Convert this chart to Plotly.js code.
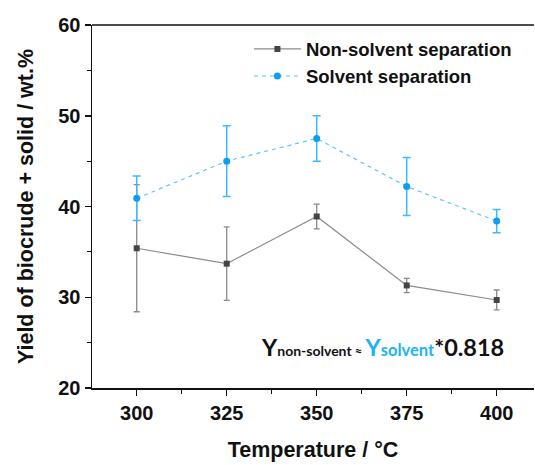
<!DOCTYPE html>
<html>
<head>
<meta charset="utf-8">
<script src="https://cdn.plot.ly/plotly-3.0.1.min.js"></script>
<style>html,body{margin:0;padding:0;background:#fff;}#chart{width:535px;height:465px;}</style>
</head>
<body>
<div id="chart"></div>
<script>
const temperatures = [300, 325, 350, 375, 400];
const nonSolventYield = [35.4, 33.7, 38.9, 31.3, 29.7];
const nonSolventErr = [7.0, 4.05, 1.36, 0.78, 1.1];
const solventYield = [40.9, 45.0, 47.5, 42.2, 38.4];
const solventErr = [2.45, 3.9, 2.5, 3.2, 1.28];
const seriesNames = ["Non-solvent separation", "Solvent separation"];
const xTicks = [300, 325, 350, 375, 400];
const yTicks = [20, 30, 40, 50, 60];

const FONT = "Liberation Sans, Arial, sans-serif";

const traces = [
  {
    x: temperatures, y: nonSolventYield, name: seriesNames[0],
    type: "scatter", mode: "lines+markers",
    line: {color: "#8a8a8a", width: 1.2},
    marker: {symbol: "square", size: 6, color: "#444444"},
    error_y: {type: "data", array: nonSolventErr, visible: true, color: "#8a8a8a", thickness: 1.3, width: 3}
  },
  {
    x: temperatures, y: solventYield, name: seriesNames[1],
    type: "scatter", mode: "lines+markers",
    line: {color: "#5cc6ff", width: 1.2, dash: "4px,4px"},
    marker: {symbol: "circle", size: 7, color: "#0f9cf5"},
    error_y: {type: "data", array: solventErr, visible: true, color: "#3bbaff", thickness: 1.5, width: 4}
  }
];

const layout = {
  width: 535, height: 465,
  margin: {l: 92, r: 1, t: 25, b: 77},
  paper_bgcolor: "#fff", plot_bgcolor: "#fff",
  showlegend: true,
  legend: {
    x: 0.355, y: 0.985, xanchor: "left", yanchor: "top",
    bgcolor: "rgba(0,0,0,0)",
    font: {family: FONT, size: 18.5, color: "#111", weight: "bold"},
    itemwidth: 47, tracegroupgap: 0
  },
  xaxis: {
    range: [287.58, 410.36],
    tickvals: xTicks,
    ticks: "outside", ticklen: 6, tickwidth: 1.5, tickcolor: "#111",
    minor: {dtick: 12.5, tick0: 287.5, ticks: "outside", ticklen: 4, tickwidth: 1.2, tickcolor: "#111", showgrid: false},
    showline: true, linecolor: "#111", linewidth: 1.5,
    showgrid: false, zeroline: false,
    tickfont: {family: FONT, size: 20, color: "#111", weight: "bold"},
    title: {text: "Temperature / °C", font: {family: FONT, size: 21.5, color: "#111", weight: "bold"}, standoff: 19},
    automargin: false
  },
  yaxis: {
    range: [20, 60],
    tickvals: yTicks,
    ticks: "outside", ticklen: 6, tickwidth: 1.5, tickcolor: "#111",
    minor: {dtick: 5, ticks: "outside", ticklen: 4, tickwidth: 1.2, tickcolor: "#111", showgrid: false},
    showline: true, linecolor: "#111", linewidth: 1.5,
    showgrid: false, zeroline: false,
    tickfont: {family: FONT, size: 20, color: "#111", weight: "bold"},
    title: {text: "Yield of biocrude + solid / wt.%", font: {family: FONT, size: 21.5, color: "#111", weight: "bold"}, standoff: 18},
    automargin: false
  },
  shapes: [
    {type: "line", xref: "paper", yref: "paper", x0: 0, x1: 1, y0: 1, y1: 1, line: {color: "#111", width: 1.5}}
  ],
  annotations: [
    {
      xref: "paper", yref: "paper", x: 0.377, y: 0.113, xanchor: "left", yanchor: "middle",
      showarrow: false,
      font: {family: "Lato, Open Sans, sans-serif", size: 23.5, color: "#111", weight: "bold"},
      text: "<b>Y<span style='font-size:14px'>non-solvent</span><span style='font-size:13px'> ≈ </span><span style='color:#1eb4f0'>Y<span style='font-size:16.5px'>solvent</span></span>*0.818</b>"
    }
  ]
};

Plotly.newPlot("chart", traces, layout, {displayModeBar: false, staticPlot: true});
</script>
</body>
</html>
